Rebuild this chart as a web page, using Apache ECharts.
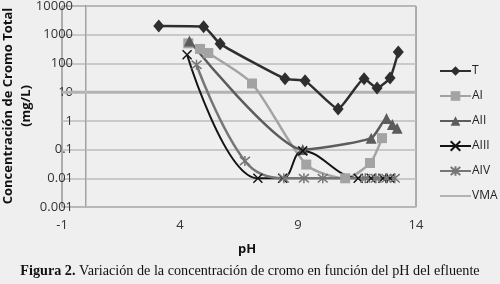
<!DOCTYPE html>
<html>
<head>
<meta charset="utf-8">
<script src="https://cdn.jsdelivr.net/npm/echarts@6/dist/echarts.min.js"></script>
<style>
  html, body { margin: 0; padding: 0; background: #efefef; }
  #chart { width: 500px; height: 284px; }
</style>
</head>
<body>
<div id="chart"></div>
<script>
// pH / concentration pairs
const tPH = [3.1, 5.0, 5.7, 8.45, 9.3, 10.7, 11.8, 12.35, 12.9, 13.25];
const tConc = [2000, 1900, 480, 29, 25, 2.6, 29, 14, 31, 250];

const aiPH = [4.35, 4.85, 5.2, 7.05, 9.35, 11.0, 12.05, 12.56];
const aiConc = [500, 320, 230, 20, 0.03, 0.01, 0.034, 0.25];

const aiiPH = [4.4, 9.2, 12.1, 12.75, 13.0, 13.2];
const aiiConc = [600, 0.1, 0.25, 1.2, 0.75, 0.55];

const aiiiPH = [4.3, 7.3, 8.35, 9.2, 11.55, 12.1, 12.6, 12.9];
const aiiiConc = [200, 0.01, 0.01, 0.09, 0.01, 0.01, 0.01, 0.01];

const aivPH = [4.7, 6.75, 8.4, 9.25, 10.05, 11.85, 12.3, 12.75, 13.1];
const aivConc = [90, 0.04, 0.01, 0.01, 0.01, 0.01, 0.01, 0.01, 0.01];

const vmaLimit = 10;
const xTicks = [-1, 4, 9, 14];
const yAxisCrossAt = 0;

const pairs = (xs, ys) => xs.map((x, i) => [x, ys[i]]);

const crossPath = 'path://M0,0L10,10M10,0L0,10';
const starPath = 'path://M0,0L10,10M10,0L0,10M5,-1L5,11';

var myChart = echarts.init(document.getElementById('chart'));
myChart.setOption({
    backgroundColor: '#efefef',
    animation: false,
    grid: {
        left: 62, right: 84, top: 6, bottom: 77,
        outerBoundsMode: 'none',
        show: true, borderColor: '#6a6a6a', borderWidth: 1
    },
    legend: {
        orient: 'vertical',
        left: 434,
        top: 60,
        itemWidth: 31,
        itemHeight: 12,
        itemGap: 13,
        textStyle: {fontFamily: 'Open Sans', fontSize: 12, color: '#222', padding: [0, 0, 0, -4]},
        data: ['T', 'AI', 'AII', 'AIII', 'AIV', {name: 'VMA', itemStyle: {opacity: 0}}]
    },
    xAxis: {
        type: 'value',
        min: xTicks[0],
        max: xTicks[xTicks.length - 1],
        interval: 5,
        name: 'pH',
        nameLocation: 'middle',
        nameGap: 36,
        nameTextStyle: {fontFamily: 'Open Sans', fontWeight: 'bold', fontSize: 13, color: '#111', padding: [0, 0, 0, 16]},
        axisLine: {show: true, onZero: false, lineStyle: {color: '#b8b8b8', width: 1.5}},
        axisTick: {show: false},
        splitLine: {show: false},
        axisLabel: {fontFamily: 'Open Sans', fontSize: 13, color: '#333', margin: 12}
    },
    yAxis: {
        type: 'log',
        logBase: 10,
        min: 0.001,
        max: 10000,
        axisLine: {show: true, lineStyle: {color: '#555', width: 1}},
        axisTick: {show: false},
        splitLine: {show: true, lineStyle: {color: '#bdbdbd', width: 1.5}},
        axisLabel: {
            fontFamily: 'Open Sans', fontSize: 13, color: '#333', margin: -11,
            formatter: v => String(+v.toPrecision(3))
        }
    },
    series: [
        {
            name: 'VMA', type: 'line', z: 1,
            data: [[xTicks[0], vmaLimit], [xTicks[xTicks.length - 1], vmaLimit]],
            symbol: 'none',
            lineStyle: {color: '#b3b3b3', width: 3},
            itemStyle: {color: '#b3b3b3'},
            markLine: {
                silent: true, symbol: 'none', label: {show: false},
                lineStyle: {color: '#bdbdbd', width: 1.5, type: 'solid'},
                data: [{xAxis: yAxisCrossAt}]
            }
        },
        {
            name: 'T', type: 'line', data: pairs(tPH, tConc), smooth: 0.15,
            symbol: 'diamond', symbolSize: [11, 13],
            lineStyle: {color: '#2e2e2e', width: 2.5}, itemStyle: {color: '#2e2e2e'}
        },
        {
            name: 'AI', type: 'line', data: pairs(aiPH, aiConc), smooth: 0.25,
            symbol: 'rect', symbolSize: 10,
            lineStyle: {color: '#a3a3a3', width: 2.5}, itemStyle: {color: '#a3a3a3'}
        },
        {
            name: 'AII', type: 'line', data: pairs(aiiPH, aiiConc), smooth: 0.2,
            symbol: 'triangle', symbolSize: 11,
            lineStyle: {color: '#5c5c5c', width: 2.5}, itemStyle: {color: '#5c5c5c'}
        },
        {
            name: 'AIII', type: 'line', data: pairs(aiiiPH, aiiiConc), smooth: 0.4,
            symbol: crossPath, symbolSize: 9,
            lineStyle: {color: '#141414', width: 2}, itemStyle: {color: '#141414', borderColor: '#141414', borderWidth: 1.5}
        },
        {
            name: 'AIV', type: 'line', data: pairs(aivPH, aivConc), smooth: 0.4,
            symbol: starPath, symbolSize: 10,
            lineStyle: {color: '#767676', width: 2.5}, itemStyle: {color: '#767676', borderColor: '#767676', borderWidth: 1.5}
        }
    ],
    graphic: [
        {
            type: 'text',
            x: 17, y: 106,
            rotation: Math.PI / 2,
            style: {
                text: 'Concentración de Cromo Total\n(mg/L)',
                align: 'center', verticalAlign: 'middle',
                fontFamily: 'Open Sans', fontWeight: 'bold', fontSize: 13, lineHeight: 18, fill: '#111'
            }
        },
        {
            type: 'text',
            left: 'center',
            top: 264,
            style: {
                text: '{b|Figura 2.} Variación de la concentración de cromo en función del pH del efluente',
                fontFamily: 'Liberation Serif', fontSize: 14.2, fill: '#111',
                rich: {b: {fontFamily: 'Liberation Serif', fontSize: 14.2, fontWeight: 'bold', fill: '#111'}}
            }
        }
    ]
});
</script>
</body>
</html>
